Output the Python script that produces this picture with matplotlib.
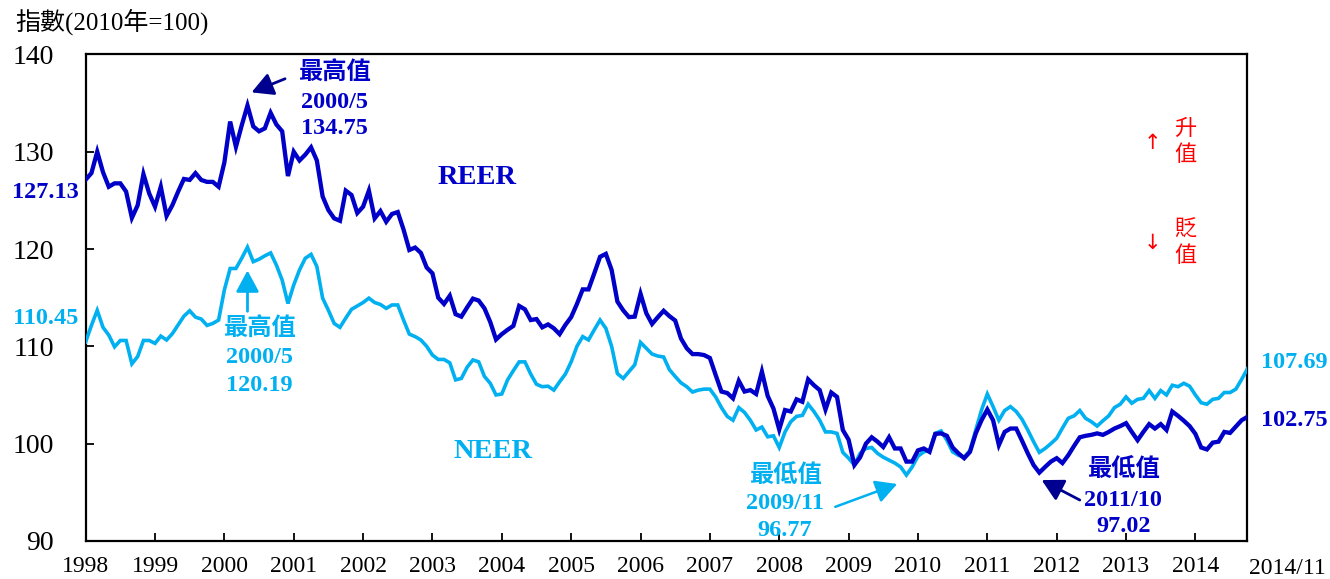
"""REER / NEER index chart (2010 = 100), monthly 1998/1 - 2014/11."""

import matplotlib

matplotlib.use("Agg")
import matplotlib.pyplot as plt

# monthly index values, first point = 1998/1
REER = [
    127.13, 127.8, 130.0, 127.9, 126.4, 126.75, 126.75, 125.9, 123.2, 124.5, 127.7, 125.7,
    124.35, 126.4, 123.4, 124.5, 125.9, 127.2, 127.1, 127.8, 127.1, 126.9, 126.9, 126.4,
    128.9, 133.1, 130.5, 132.7, 134.75, 132.6, 132.1, 132.4, 134.0, 132.8, 132.1, 127.5,
    130.0, 129.1, 129.7, 130.45, 129.1, 125.4, 124.0, 123.15, 122.9, 126.0, 125.55, 123.7,
    124.35, 126.0, 123.15, 123.9, 122.8, 123.6, 123.8, 122.0, 119.9, 120.15, 119.6, 118.1,
    117.5, 115.0, 114.35, 115.2, 113.3, 113.05, 114.0, 114.9, 114.7, 113.9, 112.5, 110.7,
    111.25, 111.7, 112.1, 114.15, 113.8, 112.7, 112.8, 111.95, 112.25, 111.85, 111.25, 112.2,
    113.0, 114.35, 115.85, 115.85, 117.5, 119.2, 119.5, 117.85, 114.6, 113.7, 113.0, 113.05,
    115.4, 113.4, 112.3, 113.0, 113.65, 113.1, 112.65, 110.8, 109.8, 109.2, 109.2, 109.1,
    108.8, 107.05, 105.35, 105.2, 104.65, 106.45, 105.35, 105.5, 105.1, 107.4, 104.9, 103.6,
    101.45, 103.45, 103.3, 104.55, 104.3, 106.6, 106.0, 105.5, 103.5, 105.25, 104.8, 101.4,
    100.4, 97.8, 98.6, 100.0, 100.65, 100.2, 99.65, 100.65, 99.5, 99.5, 98.15, 98.15,
    99.3, 99.5, 99.15, 101.0, 101.05, 100.8, 99.6, 99.0, 98.5, 99.15, 101.05, 102.4,
    103.5, 102.4, 99.85, 101.2, 101.55, 101.55, 100.3, 99.0, 97.8, 97.02, 97.6, 98.15,
    98.5, 98.0, 98.8, 99.75, 100.65, 100.8, 100.9, 101.05, 100.9, 101.2, 101.55, 101.8,
    102.1, 101.2, 100.35, 101.2, 102.0, 101.55, 102.0, 101.4, 103.3, 102.85, 102.35, 101.8,
    101.0, 99.6, 99.4, 100.1, 100.2, 101.2, 101.1, 101.75, 102.4, 102.75,
]
NEER = [
    110.45, 112.15, 113.7, 111.95, 111.15, 109.95, 110.6, 110.6, 108.2, 108.95, 110.6, 110.6,
    110.3, 111.05, 110.65, 111.3, 112.2, 113.1, 113.65, 113.0, 112.8, 112.15, 112.35, 112.7,
    115.8, 118.0, 118.0, 119.05, 120.19, 118.7, 118.95, 119.3, 119.6, 118.35, 116.8, 114.4,
    116.3, 117.85, 119.05, 119.45, 118.2, 114.95, 113.7, 112.35, 111.95, 112.9, 113.8, 114.15,
    114.5, 114.95, 114.5, 114.3, 113.9, 114.25, 114.25, 112.7, 111.25, 111.0, 110.65, 110.0,
    109.1, 108.65, 108.65, 108.3, 106.55, 106.7, 107.85, 108.6, 108.4, 106.9, 106.2, 105.0,
    105.1, 106.55, 107.5, 108.4, 108.4, 107.15, 106.1, 105.85, 105.9, 105.5, 106.35, 107.15,
    108.4, 110.0, 111.0, 110.65, 111.7, 112.7, 111.85, 110.0, 107.2, 106.7, 107.4, 108.1,
    110.4, 109.8, 109.2, 109.0, 108.9, 107.6, 106.9, 106.25, 105.85, 105.3, 105.5, 105.6,
    105.6, 104.8, 103.7, 102.8, 102.4, 103.7, 103.2, 102.4, 101.4, 101.7, 100.7, 100.8,
    99.6, 101.2, 102.25, 102.8, 102.9, 104.05, 103.3, 102.4, 101.2, 101.2, 101.05, 99.1,
    98.5, 97.8, 99.0, 99.5, 99.6, 99.0, 98.6, 98.3, 98.0, 97.6, 96.77, 97.6,
    98.7, 99.15, 99.3, 101.05, 101.3, 100.35, 99.15, 98.8, 98.6, 99.3, 101.4, 103.45,
    105.1, 103.8, 102.4, 103.4, 103.8, 103.3, 102.5, 101.4, 100.2, 99.1, 99.5, 100.0,
    100.55, 101.6, 102.6, 102.85, 103.4, 102.6, 102.25, 101.8, 102.35, 102.85, 103.7, 104.05,
    104.8, 104.15, 104.55, 104.65, 105.45, 104.65, 105.45, 105.0, 106.0, 105.85, 106.2, 105.9,
    105.0, 104.2, 104.05, 104.55, 104.65, 105.25, 105.25, 105.6, 106.6, 107.69,
]
YEARS = list(range(1998, 2015))
Y_TICKS = [90, 100, 110, 120, 130, 140]

DARK = "#0000C8"
NAVY = "#000090"
LIGHT = "#00B0F0"
SERIF = ["Liberation Serif", "Noto Sans CJK TC"]

plt.rcParams["font.family"] = SERIF

months = list(range(len(REER)))

fig = plt.figure(figsize=(13.3, 5.79), dpi=100)
ax = fig.add_axes([0.0644, 0.0658, 0.8735, 0.8402])

ax.plot(months, NEER, color=LIGHT, lw=2.6, solid_joinstyle="miter", zorder=3)
ax.plot(months, REER, color=DARK, lw=3.1, solid_joinstyle="miter", zorder=4)

ax.set_xlim(0, len(REER) - 1)
ax.set_ylim(90, 140)
ax.set_yticks(Y_TICKS)
ax.set_xticks([12 * k for k in range(len(YEARS))])
ax.set_xticklabels([str(y) for y in YEARS])
ax.tick_params(axis="y", direction="in", length=6, width=1.3, labelsize=20, pad=23,
               right=False)
ax.tick_params(axis="x", direction="in", length=6, width=1.3, labelsize=17, pad=11,
               top=False)
for sp in ax.spines.values():
    sp.set_linewidth(1.6)
    sp.set_color("black")

# end label of the x axis and unit label
fig.text(1287 / 1330, 1 - 569 / 579, "2014/11", fontsize=17, ha="center", va="center")
fig.text(15 / 1330, 1 - 22 / 579, "指數(2010年=100)", fontsize=18, ha="left", va="center")


def stacked(x, ys, lines, color):
    for y, s in zip(ys, lines):
        ax.text(x, y, s, color=color, fontsize=17.5, fontweight="bold",
                ha="center", va="center", clip_on=False)


def arrow(tail, head, color, lw=2.0):
    ax.annotate("", xy=head, xytext=tail,
                arrowprops=dict(arrowstyle="-|>,head_length=0.65,head_width=0.35",
                                mutation_scale=20, lw=lw, color=color,
                                shrinkA=0, shrinkB=0))


# peaks / troughs
stacked(43.0, [138.2, 135.1, 132.4], ["最高值", "2000/5", "134.75"], DARK)
arrow((34.5, 137.5), (28.7, 136.1), NAVY)
stacked(30.0, [111.8, 108.9, 106.0], ["最高值", "2000/5", "120.19"], LIGHT)
arrow((28.0, 113.6), (28.0, 117.8), LIGHT)
stacked(121.0, [96.7, 93.8, 91.1], ["最低值", "2009/11", "96.77"], LIGHT)
arrow((129.7, 93.5), (140.4, 95.85), LIGHT, lw=1.8)
stacked(179.5, [97.3, 94.2, 91.5], ["最低值", "2011/10", "97.02"], DARK)
arrow((172.0, 94.2), (165.4, 96.25), NAVY)

# series names
ax.text(67.7, 127.3, "REER", color=DARK, fontsize=20.5, fontweight="bold",
        ha="center", va="center")
ax.text(70.4, 99.15, "NEER", color=LIGHT, fontsize=20.5, fontweight="bold",
        ha="center", va="center")

# start / end values
ax.text(-1.2, 125.85, f"{REER[0]:.2f}", color=DARK, fontsize=17.5, fontweight="bold",
        ha="right", va="center", clip_on=False)
ax.text(-1.2, 112.85, f"{NEER[0]:.2f}", color=LIGHT, fontsize=17.5, fontweight="bold",
        ha="right", va="center", clip_on=False)
ax.text(203.3, 108.3, f"{NEER[-1]:.2f}", color=LIGHT, fontsize=17.5, fontweight="bold",
        ha="left", va="center", clip_on=False)
ax.text(203.3, 102.4, f"{REER[-1]:.2f}", color=DARK, fontsize=17.5, fontweight="bold",
        ha="left", va="center", clip_on=False)

# appreciation / depreciation legend
red = "#FF0000"
ax.text(184.6, 130.9, "↑", color=red, fontsize=15, family="DejaVu Sans",
        ha="center", va="center")
ax.text(184.6, 120.65, "↓", color=red, fontsize=15, family="DejaVu Sans",
        ha="center", va="center")
for y, s in zip([132.2, 129.6, 121.85, 119.2], ["升", "值", "貶", "值"]):
    ax.text(190.2, y, s, color=red, fontsize=16, ha="center", va="center")

fig.savefig("out.png", dpi=100)
plt.close(fig)
